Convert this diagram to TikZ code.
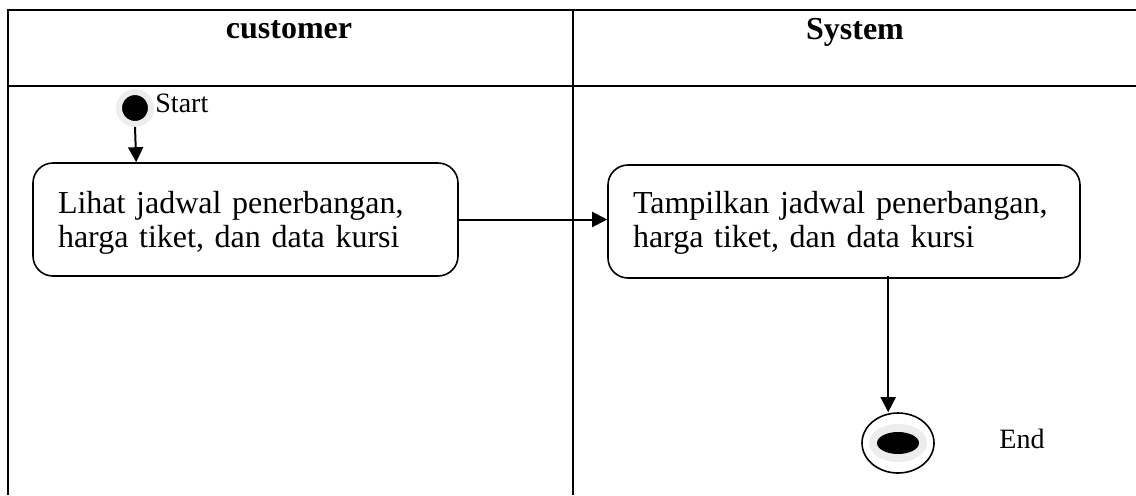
\documentclass[tikz,border=0pt]{standalone}
\usepackage{fontspec}
\setmainfont{Liberation Serif}
\usetikzlibrary{arrows.meta,shapes.geometric,calc}
\begin{document}
\begin{tikzpicture}[x=0.5pt,y=-0.5pt,
  lane/.style={line width=1pt},
  actbox/.style={draw, line width=0.8pt, rounded corners=10pt, inner sep=0pt, minimum height=56.5pt},
  acttext/.style={align=left, font=\fontsize{16pt}{17pt}\selectfont, inner sep=0pt, anchor=center},
  hdr/.style={font=\fontsize{16pt}{18pt}\selectfont\bfseries, anchor=base, inner sep=0pt},
  lbl/.style={font=\fontsize{14pt}{16pt}\selectfont, anchor=base west, inner sep=0pt},
  flow/.style={line width=1pt, -{Triangle[length=7.5pt,width=7.5pt]}},
  startdot/.style={circle, fill=black, draw=black!7, line width=3pt, minimum size=16pt, inner sep=0pt},
  endring/.style={ellipse, draw=black, line width=0.8pt, fill=white, minimum width=36pt, minimum height=30pt, inner sep=0pt}
]
\useasboundingbox (0,0) rectangle (1136,495);
% swimlane table
\draw[lane] (8,495) -- (8,9.5) -- (1145,9.5);
\draw[lane] (8,85.5) -- (1145,85.5);
\draw[lane] (573,9.5) -- (573,495);
\node[hdr] (hcust) at (289,38) {customer};
\node[hdr] (hsys) at (855,39) {System};
% start
\node[startdot] (start) at (135,108) {};
\node[lbl] (starttxt) at (155,112) {Start};
% activities
\node[actbox, minimum width=212.5pt] (box1) at (245.5,219.5) {};
\node[acttext, text width=187.5pt] (box1txt) at ($(box1.center)+(0,3)$)
  {Lihat jadwal penerbangan,\\harga tiket, dan data kursi};
\node[actbox, minimum width=236pt] (box2) at (844,221.5) {};
\node[acttext, text width=211pt] (box2txt) at ($(box2.center)+(0,1)$)
  {Tampilkan jadwal penerbangan,\\harga tiket, dan data kursi};
% end
\node[endring] (end) at (898,443) {};
\fill[black!7] (end.center) ellipse [x radius=29, y radius=19];
\fill[black] (end.center) ellipse [x radius=21, y radius=11];
\node[lbl] (endtxt) at (999,448) {End};
% connectors
\draw[flow] (start.south) -- ($(box1.north west)+(104,0)$);
\draw[flow] (box1.east) -- (box1.east -| box2.west);
\coordinate (b2out) at ($(box2.south west)+(281,-3)$);
\draw[flow] (b2out) -- (b2out |- end.north);
\end{tikzpicture}
\end{document}
